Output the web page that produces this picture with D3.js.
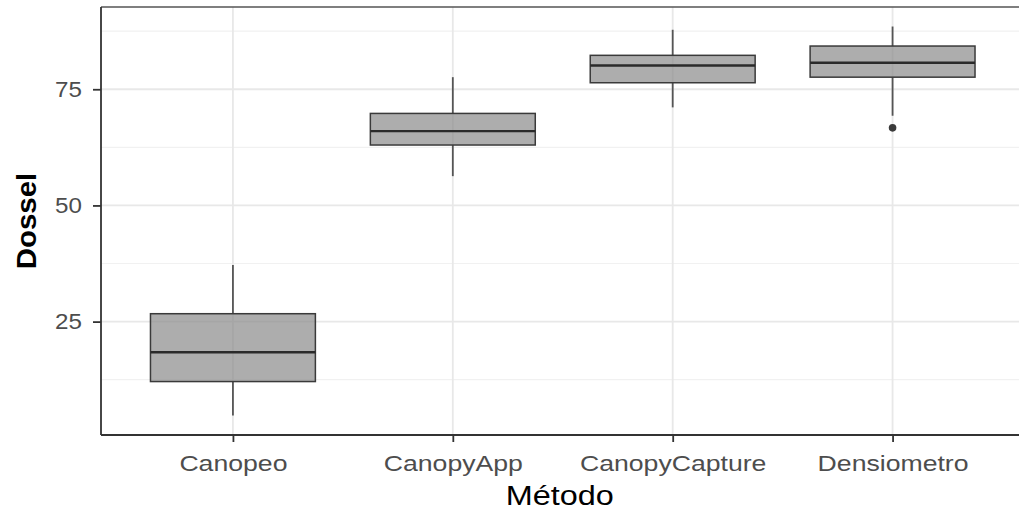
<!DOCTYPE html>
<html lang="en">
<head>
<meta charset="utf-8">
<title>Dossel por Método</title>
<script src="https://d3js.org/d3.v7.min.js"></script>
<style>
  body { margin: 0; background: #fff; }
  svg { display: block; font-family: "Liberation Sans", Arial, sans-serif; }
</style>
</head>
<body>
<div id="chart"></div>
<script>
// categories and box stats
var metodos = ["Canopeo", "CanopyApp", "CanopyCapture", "Densiometro"];
var q1      = [12.1, 63.0, 76.4, 77.6];
var medians = [18.4, 66.0, 80.1, 80.7];
var q3      = [26.7, 69.8, 82.3, 84.3];
var whiskLo = [4.8, 56.3, 71.1, 69.3];
var whiskHi = [37.2, 77.6, 87.8, 88.5];
var outliers = [[], [], [], [66.7]];
var yTicks = [25, 50, 75];
var yMinor = [12.5, 37.5, 62.5, 87.5];

var svgW = 1019, svgH = 511;
var pLeft = 101, pTop = 7, pBottom = 435, pRight = 1024.5;

var svg = d3.select("#chart").append("svg")
    .attr("width", svgW).attr("height", svgH);

// discrete expand of 0.6 on each side
var x = d3.scalePoint().domain(metodos).range([pLeft, pRight]).padding(0.6);
var step = x.step();

var y = d3.scaleLinear().domain([0.6, 92.7]).range([pBottom, pTop]);

// grid
var grid = svg.append("g");
grid.selectAll(".minor").data(yMinor).enter().append("line")
    .attr("x1", pLeft).attr("x2", pRight)
    .attr("y1", function(d) { return y(d); }).attr("y2", function(d) { return y(d); })
    .attr("stroke", "#f1f1f1").attr("stroke-width", 1.2);
grid.selectAll(".major").data(yTicks).enter().append("line")
    .attr("x1", pLeft).attr("x2", pRight)
    .attr("y1", function(d) { return y(d); }).attr("y2", function(d) { return y(d); })
    .attr("stroke", "#e8e8e8").attr("stroke-width", 1.8);
grid.selectAll(".vmajor").data(metodos).enter().append("line")
    .attr("y1", pTop).attr("y2", pBottom)
    .attr("x1", function(d) { return x(d); }).attr("x2", function(d) { return x(d); })
    .attr("stroke", "#e8e8e8").attr("stroke-width", 1.8);

// boxes
var bw = step * 0.75;
var boxes = svg.append("g").selectAll("g").data(metodos).enter().append("g");
boxes.append("line")
    .attr("x1", function(d) { return x(d); }).attr("x2", function(d) { return x(d); })
    .attr("y1", function(d, i) { return y(whiskHi[i]); })
    .attr("y2", function(d, i) { return y(q3[i]); })
    .attr("stroke", "#555").attr("stroke-width", 1.8);
boxes.append("line")
    .attr("x1", function(d) { return x(d); }).attr("x2", function(d) { return x(d); })
    .attr("y1", function(d, i) { return y(q1[i]); })
    .attr("y2", function(d, i) { return y(whiskLo[i]); })
    .attr("stroke", "#555").attr("stroke-width", 1.8);
boxes.append("rect")
    .attr("x", function(d) { return x(d) - bw / 2; })
    .attr("width", bw)
    .attr("y", function(d, i) { return y(q3[i]); })
    .attr("height", function(d, i) { return y(q1[i]) - y(q3[i]); })
    .attr("fill", "#8a8a8a").attr("fill-opacity", 0.7)
    .attr("stroke", "#3a3a3a").attr("stroke-width", 1.5);
boxes.append("line")
    .attr("x1", function(d) { return x(d) - bw / 2; })
    .attr("x2", function(d) { return x(d) + bw / 2; })
    .attr("y1", function(d, i) { return y(medians[i]); })
    .attr("y2", function(d, i) { return y(medians[i]); })
    .attr("stroke", "#2a2a2a").attr("stroke-width", 2.4);
boxes.each(function(d, i) {
    d3.select(this).selectAll("circle").data(outliers[i]).enter().append("circle")
        .attr("cx", x(d)).attr("cy", function(v) { return y(v); })
        .attr("r", 3.8).attr("fill", "#3a3a3a");
});

// top panel border
svg.append("line").attr("x1", pLeft).attr("x2", pRight).attr("y1", pTop).attr("y2", pTop)
    .attr("stroke", "#555").attr("stroke-width", 1.3);

// the reference text is a little wider than the font, stretch it
function stretch(sel, k) {
    sel.each(function() {
        var w = this.getComputedTextLength();
        d3.select(this).attr("textLength", w * k).attr("lengthAdjust", "spacingAndGlyphs");
    });
}

// axes
var yAxis = svg.append("g").attr("transform", "translate(" + pLeft + ",0)")
    .call(d3.axisLeft(y).tickValues(yTicks).tickSize(8).tickPadding(11));
var xAxis = svg.append("g").attr("transform", "translate(0," + pBottom + ")")
    .call(d3.axisBottom(x).tickSize(7).tickPadding(13));
[yAxis, xAxis].forEach(function(a) {
    a.select(".domain").attr("stroke", "#333").attr("stroke-width", 1.8);
    a.selectAll(".tick line").attr("stroke", "#333").attr("stroke-width", 1.8);
    a.selectAll(".tick text").attr("fill", "#4d4d4d")
        .style("font-size", "22px").style("font-family", "Liberation Sans, Arial, sans-serif");
});
yAxis.select(".domain").attr("d", "M0," + pTop + "V" + pBottom);
xAxis.select(".domain").attr("d", "M" + pLeft + ",0H" + pRight);
stretch(xAxis.selectAll(".tick text"), 1.21);
stretch(yAxis.selectAll(".tick text"), 1.1);

// titles
var xTitle = svg.append("text").attr("x", (pLeft + pRight) / 2 - 3).attr("y", 505)
    .attr("text-anchor", "middle").style("font-size", "27px").attr("fill", "#000")
    .text("Método");
stretch(xTitle, 1.2);
var yTitle = svg.append("text")
    .attr("transform", "translate(36," + 221 + ") rotate(-90)")
    .attr("text-anchor", "middle").style("font-size", "28px").style("font-weight", "bold")
    .attr("fill", "#000").text("Dossel");
stretch(yTitle, 1.05);
</script>
</body>
</html>
